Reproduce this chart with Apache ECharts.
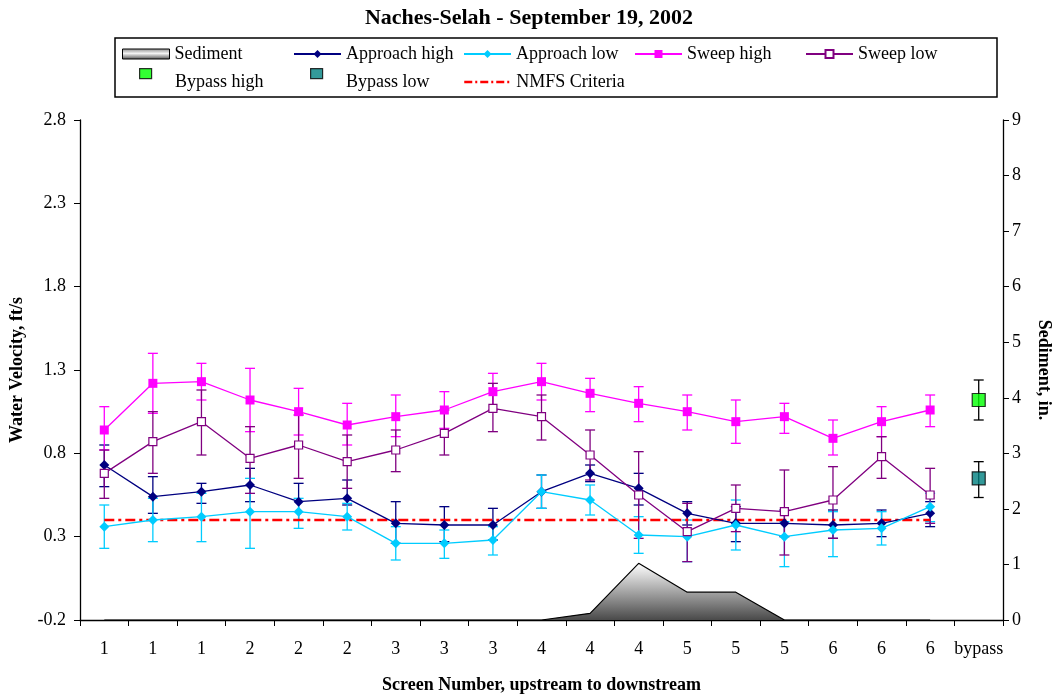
<!DOCTYPE html>
<html>
<head>
<meta charset="utf-8">
<script src="https://cdn.jsdelivr.net/npm/echarts@6/dist/echarts.min.js"></script>
<style>
html,body{margin:0;padding:0;background:#fff;}
#chart{width:1058px;height:696px;}
</style>
</head>
<body>
<div id="chart"></div>
<script>
// ---- Data ----
const categories = ['1','1','1','2','2','2','3','3','3','4','4','4','5','5','5','6','6','6','bypass'];
const leftTicks = [-0.2, 0.3, 0.8, 1.3, 1.8, 2.3, 2.8];
const rightTicks = [0,1,2,3,4,5,6,7,8,9];

const sediment = [0,0,0,0,0,0,0,0,0,0,0.12,1.02,0.5,0.5,0,0,0,0];

const approachHigh   = [0.73,0.54,0.57,0.61,0.51,0.53,0.38,0.37,0.37,0.57,0.68,0.59,0.44,0.38,0.38,0.37,0.38,0.44];
const approachHighUp = [0.85,0.66,0.62,0.71,0.62,0.64,0.51,0.48,0.47,0.67,0.73,0.68,0.51,0.48,0.46,0.46,0.46,0.51];
const approachHighLo = [0.60,0.44,0.50,0.51,0.40,0.49,0.26,0.27,0.28,0.47,0.63,0.49,0.37,0.27,0.30,0.29,0.30,0.36];

const approachLow   = [0.36,0.40,0.42,0.45,0.45,0.42,0.26,0.26,0.28,0.57,0.52,0.31,0.30,0.37,0.30,0.34,0.35,0.48];
const approachLowUp = [0.49,0.53,0.56,0.65,0.53,0.50,0.36,0.34,0.36,0.67,0.61,0.42,0.40,0.52,0.39,0.45,0.45,0.56];
const approachLowLo = [0.23,0.27,0.27,0.23,0.35,0.34,0.16,0.17,0.19,0.47,0.43,0.20,0.15,0.22,0.12,0.18,0.25,0.39];

const sweepHigh   = [0.94,1.22,1.23,1.12,1.05,0.97,1.02,1.06,1.17,1.23,1.16,1.10,1.05,0.99,1.02,0.89,0.99,1.06];
const sweepHighUp = [1.08,1.40,1.34,1.31,1.19,1.10,1.15,1.17,1.28,1.34,1.25,1.20,1.15,1.12,1.10,1.00,1.08,1.15];
const sweepHighLo = [0.82,1.04,1.12,0.93,0.91,0.85,0.90,0.95,1.06,1.12,1.05,0.99,0.94,0.86,0.92,0.79,0.90,0.96];

const sweepLow   = [0.68,0.87,0.99,0.77,0.85,0.75,0.82,0.92,1.07,1.02,0.79,0.55,0.33,0.47,0.45,0.52,0.78,0.55];
const sweepLowUp = [0.82,1.05,1.18,0.96,1.03,0.91,0.94,1.06,1.22,1.15,0.94,0.81,0.50,0.61,0.70,0.72,0.90,0.71];
const sweepLowLo = [0.53,0.68,0.79,0.56,0.65,0.59,0.69,0.79,0.93,0.88,0.64,0.29,0.15,0.33,0.19,0.29,0.65,0.38];

const bypassHigh = [1.12];
const bypassHighUp = [1.24];
const bypassHighLo = [1.00];
const bypassLow = [0.65];
const bypassLowUp = [0.75];
const bypassLowLo = [0.535];

const nmfsCriteria = [0.4,0.4,0.4,0.4,0.4,0.4,0.4,0.4,0.4,0.4,0.4,0.4,0.4,0.4,0.4,0.4,0.4,0.4];

// ---- Build ----
const FONT = '"Liberation Serif","Times New Roman",serif';
const BYPASS_INDEX = categories.length - 1;

function errData(lo, hi, offset) {
  return lo.map((l, i) => [i + (offset || 0), l, hi[i]]);
}
function errSeries(name, data, color) {
  return {
    name: name, type: 'custom', z: 3,
    data: data,
    encode: {x: 0, y: [1, 2]},
    silent: true,
    renderItem: function (params, api) {
      const x = api.value(0), lo = api.value(1), hi = api.value(2);
      const a = api.coord([x, hi]), b = api.coord([x, lo]);
      const w = 5;
      const st = {stroke: color, lineWidth: 1.3};
      return {type: 'group', children: [
        {type: 'line', shape: {x1: a[0], y1: a[1], x2: b[0], y2: b[1]}, style: st},
        {type: 'line', shape: {x1: a[0]-w, y1: a[1], x2: a[0]+w, y2: a[1]}, style: st},
        {type: 'line', shape: {x1: b[0]-w, y1: b[1], x2: b[0]+w, y2: b[1]}, style: st}
      ]};
    }
  };
}
function lineSeries(name, data, color, symbol, size, fill) {
  return {
    name: name, type: 'line', z: 5, data: data,
    symbol: symbol, symbolSize: size,
    lineStyle: {color: color, width: 1.3},
    itemStyle: {color: fill || color, borderColor: color, borderWidth: fill ? 1.2 : 0, opacity: 1},
    emphasis: {disabled: true}
  };
}

const sedGradient = new echarts.graphic.LinearGradient(0, 0, 0, 1, [
  {offset: 0, color: '#ffffff'}, {offset: 1, color: '#4a4a4a'}
]);
const legendGradient = new echarts.graphic.LinearGradient(0, 0, 0, 1, [
  {offset: 0, color: '#8a8a8a'}, {offset: 0.45, color: '#f4f4f4'}, {offset: 1, color: '#505050'}
]);

const legendText = {fontFamily: FONT, fontSize: 18, lineHeight: 18, color: '#000'};
function legendAt(left, top, item, extra) {
  return Object.assign({
    left: left, top: top, orient: 'horizontal', padding: 0,
    itemWidth: 47, itemHeight: 10, selectedMode: false,
    textStyle: legendText,
    data: [item]
  }, extra || {});
}
const squareIcon = 'path://M0,0 L12,0 L12,10 L0,10 Z';
const hiddenStyle = {color: 'rgba(0,0,0,0)', borderColor: 'rgba(0,0,0,0)', borderWidth: 0, opacity: 0};

const option = {
  backgroundColor: '#fff',
  animation: false,
  title: {
    text: 'Naches-Selah - September 19, 2002',
    left: 'center', top: 2,
    textStyle: {fontFamily: FONT, fontSize: 22, fontWeight: 'bold', color: '#000'}
  },
  graphic: [{
    type: 'rect', shape: {x: 115, y: 38, width: 882, height: 59},
    style: {fill: 'none', stroke: '#000', lineWidth: 1.5}, z: -1
  }],
  legend: [
    legendAt(122, 45, {name: 'Sediment', icon: 'rect', itemStyle: {color: legendGradient, borderColor: '#000', borderWidth: 1}}),
    legendAt(293, 45, {name: 'Approach high'}),
    legendAt(463, 45, {name: 'Approach low'}),
    legendAt(634, 45, {name: 'Sweep high'}),
    legendAt(805, 45, {name: 'Sweep low'}),
    // bypass icons (icon only)
    legendAt(139, 68, {name: 'Bypass high', icon: squareIcon, itemStyle: {color: '#00ff00', borderColor: '#000', borderWidth: 1.2}},
      {itemWidth: 12, itemHeight: 10, formatter: function () { return ''; }}),
    legendAt(310, 68, {name: 'Bypass low', icon: squareIcon, itemStyle: {color: '#008080', borderColor: '#000', borderWidth: 1.2}},
      {itemWidth: 12, itemHeight: 10, formatter: function () { return ''; }}),
    // bypass texts
    legendAt(170, 73, {name: 'Bypass high', icon: squareIcon, itemStyle: hiddenStyle}, {itemWidth: 0, itemHeight: 10}),
    legendAt(341, 73, {name: 'Bypass low', icon: squareIcon, itemStyle: hiddenStyle}, {itemWidth: 0, itemHeight: 10}),
    legendAt(463, 73, {name: 'NMFS Criteria', itemStyle: hiddenStyle,
      lineStyle: {color: '#ff0000', width: 2.5, type: [8, 3, 2, 3]}})
  ],
  grid: {left: 80, right: 55, top: 120, bottom: 76, containLabel: false, outerBoundsMode: 'none'},
  xAxis: {
    type: 'category', data: categories, boundaryGap: true,
    name: 'Screen Number, upstream to downstream', nameLocation: 'middle', nameGap: 56,
    nameTextStyle: {fontFamily: FONT, fontSize: 18, fontWeight: 'bold', color: '#000'},
    axisLine: {onZero: false, lineStyle: {color: '#000', width: 1.3}},
    axisTick: {show: true, length: 6, inside: false, lineStyle: {color: '#000'}},
    axisLabel: {interval: 0, margin: 20, fontFamily: FONT, fontSize: 18, color: '#000'},
    splitLine: {show: false}
  },
  yAxis: [{
    type: 'value', min: leftTicks[0], max: leftTicks[leftTicks.length-1], interval: 0.5,
    position: 'left',
    name: 'Water Velocity, ft/s', nameLocation: 'middle', nameGap: 54, nameRotate: 90,
    nameTextStyle: {fontFamily: FONT, fontSize: 18, fontWeight: 'bold', color: '#000'},
    axisLine: {show: true, onZero: false, lineStyle: {color: '#000', width: 1.3}},
    axisTick: {show: true, length: 6, lineStyle: {color: '#000'}},
    axisLabel: {margin: 14, fontFamily: FONT, fontSize: 18, color: '#000',
      formatter: v => (Math.round(v * 10) / 10).toFixed(1)},
    splitLine: {show: false}
  }, {
    type: 'value', min: rightTicks[0], max: rightTicks[rightTicks.length-1], interval: 1,
    position: 'right',
    name: 'Sediment, in.', nameLocation: 'middle', nameGap: 32, nameRotate: -90,
    nameTextStyle: {fontFamily: FONT, fontSize: 18, fontWeight: 'bold', color: '#000'},
    axisLine: {show: true, onZero: false, lineStyle: {color: '#000', width: 1.3}},
    axisTick: {show: true, length: 6, lineStyle: {color: '#000'}},
    axisLabel: {margin: 9, fontFamily: FONT, fontSize: 18, color: '#000'},
    splitLine: {show: false}
  }],
  series: [
    {
      name: 'Sediment', type: 'line', yAxisIndex: 1, z: 1, data: sediment,
      symbol: 'none', lineStyle: {color: '#000', width: 1.2},
      areaStyle: {color: sedGradient, opacity: 1},
      emphasis: {disabled: true}
    },
    errSeries('ah-err', errData(approachHighLo, approachHighUp), '#000080'),
    errSeries('al-err', errData(approachLowLo, approachLowUp), '#00ccff'),
    errSeries('sh-err', errData(sweepHighLo, sweepHighUp), '#ff00ff'),
    errSeries('sl-err', errData(sweepLowLo, sweepLowUp), '#800080'),
    errSeries('bh-err', errData(bypassHighLo, bypassHighUp, BYPASS_INDEX), '#000'),
    errSeries('bl-err', errData(bypassLowLo, bypassLowUp, BYPASS_INDEX), '#000'),
    {
      name: 'NMFS Criteria', type: 'line', z: 4, data: nmfsCriteria, symbol: 'none',
      lineStyle: {color: '#ff0000', width: 2.5, type: [10, 4, 3, 4]},
      itemStyle: {color: '#ff0000'}, emphasis: {disabled: true}
    },
    lineSeries('Approach high', approachHigh, '#000080', 'diamond', 10),
    lineSeries('Approach low', approachLow, '#00ccff', 'diamond', 10),
    lineSeries('Sweep high', sweepHigh, '#ff00ff', 'rect', 9),
    lineSeries('Sweep low', sweepLow, '#800080', 'rect', 8, '#ffffff'),
    {
      name: 'Bypass high', type: 'scatter', z: 6, symbol: 'rect', symbolSize: 13,
      data: bypassHigh.map(v => [BYPASS_INDEX, v]),
      itemStyle: {color: '#00ff00', borderColor: '#000', borderWidth: 1.2},
      emphasis: {disabled: true}
    },
    {
      name: 'Bypass low', type: 'scatter', z: 6, symbol: 'rect', symbolSize: 13,
      data: bypassLow.map(v => [BYPASS_INDEX, v]),
      itemStyle: {color: '#008080', borderColor: '#000', borderWidth: 1.2},
      emphasis: {disabled: true}
    }
  ]
};

const chart = echarts.init(document.getElementById('chart'), null, {renderer: 'canvas'});
chart.setOption(option);
</script>
</body>
</html>
